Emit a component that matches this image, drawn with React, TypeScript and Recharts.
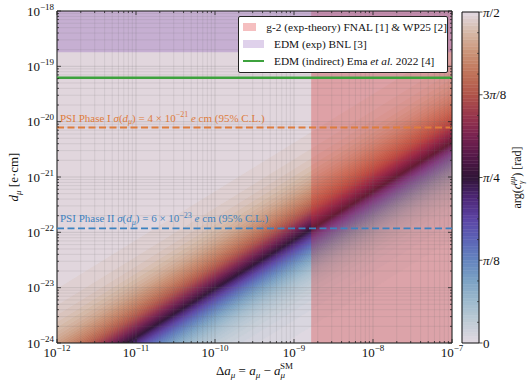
import React from 'react';
import {
  ComposedChart,
  XAxis,
  YAxis,
  Area,
  ReferenceArea,
  ReferenceLine,
  CartesianGrid,
} from 'recharts';

const FONT = '"Liberation Serif", "DejaVu Serif", serif';

// ---------- axes ----------
const X_DECADE_EXPONENTS = [-12, -11, -10, -9, -8, -7];
const Y_DECADE_EXPONENTS = [-24, -23, -22, -21, -20, -19, -18];
const MINOR_MULTIPLIERS = [2, 3, 4, 5, 6, 7, 8, 9];

// ---------- heat map ----------
// x positions spanning the heat map (Δa_μ)
const HEAT_X_EDGES = [1e-12, 1e-7];
const PIVOT_DA = 1.7e-9;
const PIVOT_D = 1.18e-22;
const DIAGONAL_SLOPE = 0.88;
const PHASE_LEVELS = 90;

// ---------- bounds ----------
const G2_EXCLUDED_MIN = 1.65e-9;
const BNL_EDM_LIMIT = 1.8e-19;
const EMA_EDM_LIMIT = 6.2e-20;
const PSI_PHASE1_LIMIT = 7.84e-21;
const PSI_PHASE2_LIMIT = 1.176e-22;

// ---------- colour bar ----------
const CB_MAJOR_LABELS = ['0', 'π/8', 'π/4', '3π/8', 'π/2'];
const CB_MINOR_PER_MAJOR = 4;

// twilight colormap stops [t, r, g, b]
const TWILIGHT_STOPS: number[][] = [
  [0.0, 226, 217, 226],
  [0.0625, 192, 204, 214],
  [0.125, 158, 186, 205],
  [0.1875, 124, 162, 196],
  [0.25, 100, 132, 190],
  [0.3125, 92, 100, 182],
  [0.375, 92, 68, 164],
  [0.4375, 78, 40, 120],
  [0.5, 48, 20, 54],
  [0.5625, 84, 24, 72],
  [0.625, 120, 34, 80],
  [0.6875, 152, 54, 76],
  [0.75, 176, 84, 74],
  [0.8125, 191, 114, 88],
  [0.875, 202, 146, 118],
  [0.9375, 213, 184, 166],
  [1.0, 226, 217, 226],
];

const COLORS = {
  g2: '#d62728',
  bnl: '#9467bd',
  ema: '#3da23d',
  psi1: '#de7c3c',
  psi2: '#3c82c0',
  bg: '#e2d9e2',
};

// layout constants
const W = 528;
const H = 380;
const M_TOP = 11;
const Y_AXIS_W = 57;
const X_AXIS_H = 37;
const M_RIGHT = 76;
const PLOT_W = W - Y_AXIS_W - M_RIGHT;
const PLOT_H = H - M_TOP - X_AXIS_H;

const HALF_PI = Math.PI / 2;

function twilight(t: number): string {
  const c = Math.max(0, Math.min(1, t));
  for (let i = 1; i < TWILIGHT_STOPS.length; i++) {
    const a = TWILIGHT_STOPS[i - 1];
    const b = TWILIGHT_STOPS[i];
    if (c <= b[0]) {
      const f = (c - a[0]) / (b[0] - a[0]);
      const r = Math.round(a[1] + (b[1] - a[1]) * f);
      const g = Math.round(a[2] + (b[2] - a[2]) * f);
      const bl = Math.round(a[3] + (b[3] - a[3]) * f);
      return `rgb(${r},${g},${bl})`;
    }
  }
  const l = TWILIGHT_STOPS[TWILIGHT_STOPS.length - 1];
  return `rgb(${l[1]},${l[2]},${l[3]})`;
}

function logTicks(exps: number[]): number[] {
  const out: number[] = [];
  exps.forEach((e, i) => {
    out.push(Math.pow(10, e));
    if (i < exps.length - 1) MINOR_MULTIPLIERS.forEach((m) => out.push(m * Math.pow(10, e)));
  });
  return out;
}

const X_TICKS = logTicks(X_DECADE_EXPONENTS);
const Y_TICKS = logTicks(Y_DECADE_EXPONENTS);

function isMajor(v: number) {
  const e = Math.log10(v);
  return Math.abs(e - Math.round(e)) < 1e-6;
}

const heatData = HEAT_X_EDGES.map((x) => ({ x }));

const clampTan = (p: number) => Math.min(1e9, Math.max(1e-9, Math.tan(p)));
const diagonalAt = (x: number) => PIVOT_D * Math.pow(x / PIVOT_DA, DIAGONAL_SLOPE);

const phaseBands = Array.from({ length: PHASE_LEVELS }, (_, i) => {
  const lo = (i / PHASE_LEVELS) * HALF_PI;
  const hi = ((i + 1) / PHASE_LEVELS) * HALF_PI;
  return { lo, hi, color: twilight((i + 0.5) / PHASE_LEVELS) };
});

const CB_LEVELS = 96;
const cbBands = Array.from({ length: CB_LEVELS }, (_, i) => ({
  y1: (i / CB_LEVELS) * HALF_PI,
  y2: ((i + 1) / CB_LEVELS) * HALF_PI,
  color: twilight((i + 0.5) / CB_LEVELS),
}));
const CB_TICKS = Array.from(
  { length: (CB_MAJOR_LABELS.length - 1) * CB_MINOR_PER_MAJOR + 1 },
  (_, i) => (i / ((CB_MAJOR_LABELS.length - 1) * CB_MINOR_PER_MAJOR)) * HALF_PI
);

// ---------- custom ticks ----------
function XTick(props: any) {
  const { x, y, payload } = props;
  const v = payload.value;
  const major = isMajor(v);
  const len = major ? 4 : 2;
  const e = Math.round(Math.log10(v));
  return (
    <g>
      <line x1={x} x2={x} y1={y} y2={y - len} stroke="#222" strokeWidth={0.8} />
      <line x1={x} x2={x} y1={y - PLOT_H} y2={y - PLOT_H + len} stroke="#222" strokeWidth={0.8} />
      {major && (
        <text x={x} y={y + 14} textAnchor="middle" fontFamily={FONT} fontSize={13} fill="#111">
          10<tspan dy={-6} fontSize={9}>{'−' + Math.abs(e)}</tspan>
        </text>
      )}
    </g>
  );
}

function YTick(props: any) {
  const { x, y, payload } = props;
  const v = payload.value;
  const major = isMajor(v);
  const len = major ? 4 : 2;
  const e = Math.round(Math.log10(v));
  return (
    <g>
      <line x1={x} x2={x + len} y1={y} y2={y} stroke="#222" strokeWidth={0.8} />
      <line x1={x + PLOT_W} x2={x + PLOT_W - len} y1={y} y2={y} stroke="#222" strokeWidth={0.8} />
      {major && (
        <text x={x - 3} y={y + 4.5} textAnchor="end" fontFamily={FONT} fontSize={13} fill="#111">
          10<tspan dy={-6} fontSize={9}>{'−' + Math.abs(e)}</tspan>
        </text>
      )}
    </g>
  );
}

function CbTick(props: any) {
  const { x, y, index } = props;
  const major = index % CB_MINOR_PER_MAJOR === 0;
  const label = major ? CB_MAJOR_LABELS[index / CB_MINOR_PER_MAJOR] : null;
  return (
    <g>
      {major ? (
        <line x1={x} x2={x + 3.5} y1={y} y2={y} stroke="#222" strokeWidth={0.8} />
      ) : (
        <line x1={x} x2={x - 2} y1={y} y2={y} stroke="#222" strokeWidth={0.7} />
      )}
      {label && (
        <text x={x + 4} y={y + 4.5} fontFamily={FONT} fontSize={13} fill="#111">
          {label.includes('π') ? (
            <>
              {label.split('π')[0]}
              <tspan fontStyle="italic">π</tspan>
              {label.split('π')[1]}
            </>
          ) : (
            label
          )}
        </text>
      )}
    </g>
  );
}

// ---------- labels ----------
function XLabel(props: any) {
  const vb = props.viewBox;
  const cx = vb.x + vb.width / 2;
  const y = vb.y + 32;
  return (
    <text x={cx} y={y} textAnchor="middle" fontFamily={FONT} fontSize={13} fill="#111">
      Δ<tspan fontStyle="italic">a</tspan>
      <tspan dy={3} fontSize={9} fontStyle="italic">μ</tspan>
      <tspan dy={-3}>{' = '}</tspan>
      <tspan fontStyle="italic">a</tspan>
      <tspan dy={3} fontSize={9} fontStyle="italic">μ</tspan>
      <tspan dy={-3}>{' − '}</tspan>
      <tspan fontStyle="italic">a</tspan>
      <tspan dy={3} fontSize={9} fontStyle="italic">μ</tspan>
      <tspan dx={-5} dy={-9} fontSize={9}>SM</tspan>
    </text>
  );
}

function YLabel(props: any) {
  const vb = props.viewBox;
  const cx = vb.x + 18;
  const cy = vb.y + vb.height / 2;
  return (
    <text
      x={cx}
      y={cy}
      transform={`rotate(-90, ${cx}, ${cy})`}
      textAnchor="middle"
      fontFamily={FONT}
      fontSize={13}
      fill="#111"
    >
      <tspan fontStyle="italic">d</tspan>
      <tspan dy={3} fontSize={9} fontStyle="italic">μ</tspan>
      <tspan dy={-3}>{' [e·cm]'}</tspan>
    </text>
  );
}

function CbLabel(props: any) {
  const vb = props.viewBox;
  const cx = vb.x + 42;
  const cy = vb.y + vb.height / 2;
  return (
    <text
      x={cx}
      y={cy}
      transform={`rotate(-90, ${cx}, ${cy})`}
      textAnchor="middle"
      fontFamily={FONT}
      fontSize={12}
      fill="#111"
    >
      {'arg('}
      <tspan fontStyle="italic">c</tspan>
      <tspan dy={3} fontSize={8} fontStyle="italic">γ</tspan>
      <tspan dx={-4} dy={-9} fontSize={8} fontStyle="italic">μμ</tspan>
      <tspan dy={6}>{') [rad]'}</tspan>
    </text>
  );
}

function makePsiLabel(color: string, phase: string, mant: string, exp: string) {
  return (props: any) => {
    const vb = props.viewBox;
    return (
      <text x={vb.x + 3} y={vb.y - 6} fill={color} fontFamily={FONT} fontSize={11}>
        {`PSI Phase ${phase} `}
        <tspan fontStyle="italic">σ</tspan>
        {'('}
        <tspan fontStyle="italic">d</tspan>
        <tspan dy={2.5} fontSize={8} fontStyle="italic">μ</tspan>
        <tspan dy={-2.5}>{`) = ${mant} × 10`}</tspan>
        <tspan dy={-4.5} fontSize={8}>{`−${exp}`}</tspan>
        <tspan dy={4.5}>{' '}</tspan>
        <tspan fontStyle="italic">e</tspan>
        {' cm (95% C.L.)'}
      </text>
    );
  };
}

const LEGEND_ITEMS = [
  { kind: 'rect', color: '#f5bfc0', text: ['g-2 (exp-theory) FNAL [1] & WP25 [2]'] },
  { kind: 'rect', color: '#dfd1eb', text: ['EDM (exp) BNL [3]'] },
  { kind: 'line', color: COLORS.ema, text: ['EDM (indirect) Ema ', 'et al.', ' 2022 [4]'] },
];

export default function App() {
  return (
    <div style={{ position: 'absolute', left: 0, top: 0, width: W, height: H, background: '#fff' }}>
      <div style={{ position: 'absolute', left: 0, top: 0 }}>
        <ComposedChart
          width={W}
          height={H}
          data={heatData}
          margin={{ top: M_TOP, right: M_RIGHT, bottom: 0, left: 0 }}
          style={{ fontFamily: FONT }}
        >
          <CartesianGrid fill={COLORS.bg} horizontal={false} vertical={false} />
          <XAxis
            type="number"
            dataKey="x"
            scale="log"
            domain={[1e-12, 1e-7]}
            allowDataOverflow
            ticks={X_TICKS}
            interval={0}
            tickSize={0}
            tickMargin={0}
            tickLine={false}
            axisLine={false}
            height={X_AXIS_H}
            tick={XTick}
            label={XLabel}
          />
          <YAxis
            type="number"
            scale="log"
            domain={[1e-24, 1e-18]}
            allowDataOverflow
            ticks={Y_TICKS}
            interval={0}
            tickSize={0}
            tickMargin={0}
            tickLine={false}
            axisLine={false}
            width={Y_AXIS_W}
            tick={YTick}
            label={YLabel}
          />
          {phaseBands.map((b, i) => (
            <Area
              key={`band-${i}`}
              type="linear"
              dataKey={(p: any) => [diagonalAt(p.x) * clampTan(b.lo), diagonalAt(p.x) * clampTan(b.hi)]}
              fill={b.color}
              fillOpacity={1}
              stroke={b.color}
              strokeWidth={0.6}
              dot={false}
              activeDot={false}
              isAnimationActive={false}
              legendType="none"
            />
          ))}
          {X_TICKS.map((v) => (
            <ReferenceLine
              key={`gx-${v}`}
              x={v}
              stroke="#6e6e6e"
              strokeOpacity={isMajor(v) ? 0.3 : 0.2}
              strokeWidth={0.7}
            />
          ))}
          {Y_TICKS.map((v) => (
            <ReferenceLine
              key={`gy-${v}`}
              y={v}
              stroke="#6e6e6e"
              strokeOpacity={isMajor(v) ? 0.3 : 0.2}
              strokeWidth={0.7}
            />
          ))}
          <ReferenceArea x1={G2_EXCLUDED_MIN} x2={1e-7} fill={COLORS.g2} fillOpacity={0.3} stroke="none" />
          <ReferenceArea y1={BNL_EDM_LIMIT} y2={1e-18} fill={COLORS.bnl} fillOpacity={0.35} stroke="none" />
          <ReferenceLine y={EMA_EDM_LIMIT} stroke={COLORS.ema} strokeWidth={2.5} />
          <ReferenceLine
            y={PSI_PHASE1_LIMIT}
            stroke={COLORS.psi1}
            strokeWidth={1.8}
            strokeDasharray="7 3.5"
            label={makePsiLabel(COLORS.psi1, 'I', '4', '21')}
          />
          <ReferenceLine
            y={PSI_PHASE2_LIMIT}
            stroke={COLORS.psi2}
            strokeWidth={1.8}
            strokeDasharray="7 3.5"
            label={makePsiLabel(COLORS.psi2, 'II', '6', '23')}
          />
          <ReferenceArea
            x1={1e-12}
            x2={1e-7}
            y1={1e-24}
            y2={1e-18}
            fill="none"
            fillOpacity={0}
            stroke="#111"
            strokeWidth={1}
          />
        </ComposedChart>
      </div>

      <div style={{ position: 'absolute', left: 0, top: 0 }}>
        <ComposedChart
          width={W}
          height={H}
          data={HEAT_X_EDGES.map((_, i) => ({ c: i }))}
          margin={{ top: 12, right: 0, bottom: X_AXIS_H, left: 462 }}
          style={{ fontFamily: FONT }}
        >
          <XAxis type="number" dataKey="c" domain={[0, 1]} hide />
          <YAxis
            type="number"
            orientation="right"
            domain={[0, HALF_PI]}
            allowDataOverflow
            ticks={CB_TICKS}
            interval={0}
            tickSize={0}
            tickMargin={0}
            tickLine={false}
            axisLine={false}
            width={49}
            tick={CbTick}
            label={CbLabel}
          />
          {cbBands.map((b, i) => (
            <ReferenceArea
              key={`cb-${i}`}
              y1={b.y1}
              y2={b.y2}
              fill={b.color}
              fillOpacity={1}
              stroke={b.color}
              strokeWidth={0.5}
            />
          ))}
          <ReferenceArea y1={0} y2={HALF_PI} fill="none" fillOpacity={0} stroke="#111" strokeWidth={1} />
        </ComposedChart>
      </div>

      <div
        style={{
          position: 'absolute',
          left: 238,
          top: 16,
          width: 210,
          height: 57,
          boxSizing: 'border-box',
          background: '#fff',
          border: '1px solid #222',
          borderRadius: 2,
          fontFamily: FONT,
          fontSize: 11.3,
          color: '#111',
          padding: '1px 0 0 4px',
        }}
      >
        {LEGEND_ITEMS.map((it, i) => (
          <div key={i} style={{ display: 'flex', alignItems: 'center', height: 17, whiteSpace: 'nowrap' }}>
            <div style={{ width: 21, height: 8, marginRight: 10, position: 'relative' }}>
              {it.kind === 'rect' ? (
                <div style={{ position: 'absolute', inset: 0, background: it.color }} />
              ) : (
                <div
                  style={{ position: 'absolute', left: 0, right: 0, top: 3, height: 2.5, background: it.color }}
                />
              )}
            </div>
            <span>
              {it.text.map((t, j) =>
                t === 'et al.' ? (
                  <i key={j}>{t}</i>
                ) : (
                  <span key={j}>{t}</span>
                )
              )}
            </span>
          </div>
        ))}
      </div>
    </div>
  );
}
